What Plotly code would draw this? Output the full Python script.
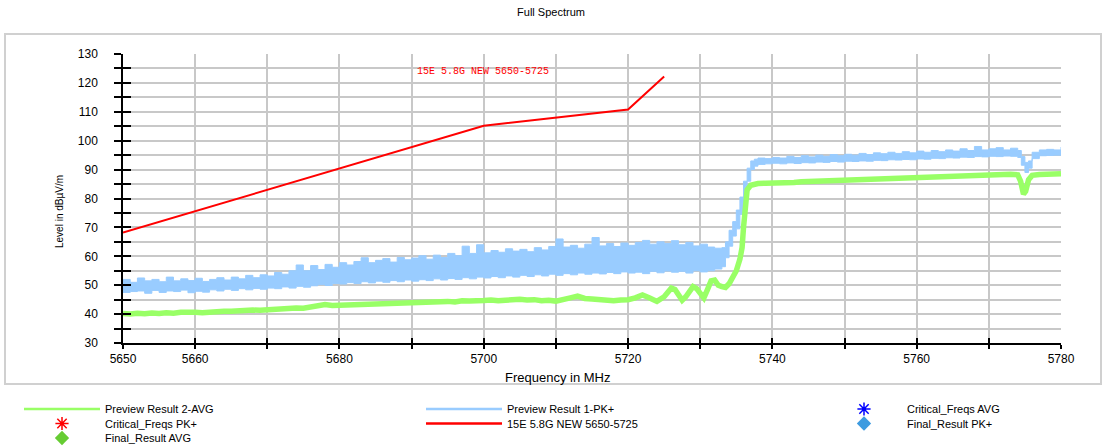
import plotly.graph_objects as go

# ---------------- data ----------------
limit_freq = [5650, 5700, 5720, 5725]
limit_val = [68.2, 105.2, 110.8, 122.2]

pk_freq = [
    5650, 5651, 5652, 5653, 5654, 5655, 5656, 5657, 5658, 5659,
    5660, 5661, 5662, 5663, 5664, 5665, 5666, 5667, 5668, 5669,
    5670, 5671, 5672, 5673, 5674, 5675, 5676, 5677, 5678, 5679,
    5680, 5681, 5682, 5683, 5684, 5685, 5686, 5687, 5688, 5689,
    5690, 5691, 5692, 5693, 5694, 5695, 5696, 5697, 5698, 5699,
    5700, 5701, 5702, 5703, 5704, 5705, 5706, 5707, 5708, 5709,
    5710, 5711, 5712, 5713, 5714, 5715, 5716, 5717, 5718, 5719,
    5720, 5721, 5722, 5723, 5724, 5725, 5726, 5727, 5728, 5729,
    5730, 5731, 5732, 5733, 5733.5, 5734, 5734.5, 5735, 5735.5, 5736,
    5736.5, 5737, 5737.5, 5738, 5739, 5740, 5741, 5742, 5743, 5744,
    5745, 5746, 5747, 5748, 5749, 5750, 5751, 5752, 5753, 5754,
    5755, 5756, 5757, 5758, 5759, 5760, 5761, 5762, 5763, 5764,
    5765, 5766, 5767, 5768, 5769, 5770, 5771, 5772, 5773, 5774,
    5774.5, 5775, 5775.5, 5776, 5777, 5778, 5779, 5780,
]
pk_hi = [
    52.0, 51.0, 52.5, 51.5, 52.0, 51.2, 52.8, 51.5, 52.2, 51.6,
    52.4, 51.3, 52.0, 52.6, 51.8, 52.8, 52.2, 53.4, 52.6, 53.6,
    53.2, 54.4, 53.8, 55.0, 57.0, 55.0, 56.8, 55.4, 57.2, 56.2,
    57.8, 57.0, 58.2, 59.5, 57.8, 58.6, 59.2, 58.0, 59.6, 58.8,
    59.4, 60.2, 59.0, 60.4, 59.6, 61.0, 60.2, 63.5, 61.0, 64.0,
    61.2, 62.0, 61.4, 62.6, 61.8, 62.4, 61.6, 63.0, 62.2, 63.4,
    66.0, 63.2, 63.8, 62.8, 64.2, 66.5, 63.6, 64.4, 63.4, 64.6,
    63.8, 64.8, 65.5, 64.2, 65.0, 64.4, 65.4, 64.0, 64.8, 63.6,
    64.2, 63.2, 62.8, 63.0, 65.0, 69.0, 72.0, 76.0, 80.5, 86.0,
    90.5, 93.0, 93.6, 94.0, 93.8, 94.2, 94.0, 94.6, 94.2, 94.8,
    94.4, 95.0, 94.6, 95.2, 94.8, 95.3, 95.0, 95.6, 95.2, 95.8,
    95.5, 96.0, 95.6, 96.2, 95.8, 96.4, 96.0, 96.6, 96.2, 96.8,
    96.4, 97.2, 96.6, 98.0, 96.8, 97.2, 97.6, 96.8, 97.4, 96.6,
    94.5, 92.5, 93.0, 96.0, 96.8, 97.0, 96.8, 97.8,
]
pk_lo = [
    47.5, 47.8, 48.0, 47.2, 48.2, 47.5, 48.0, 47.8, 48.3, 47.4,
    47.9, 47.6, 48.4, 48.0, 48.6, 48.2, 48.8, 48.4, 48.9, 48.6,
    49.0, 48.8, 49.4, 49.0, 49.6, 49.3, 49.8, 50.2, 49.9, 50.6,
    50.4, 50.9, 50.6, 51.2, 50.8, 51.4, 51.0, 51.6, 51.2, 51.8,
    51.4, 51.9, 51.6, 52.2, 51.8, 52.3, 52.0, 52.6, 52.2, 52.8,
    52.5, 53.0, 52.6, 53.2, 52.8, 53.4, 53.0, 53.6, 53.2, 53.8,
    53.4, 54.0, 53.6, 54.2, 53.8, 54.2, 53.9, 54.4, 54.0, 54.6,
    54.2, 54.5, 54.0, 54.8, 54.3, 54.9, 54.5, 54.8, 54.2, 55.0,
    54.6, 55.0, 55.6, 56.4, 59.5, 63.5, 67.0, 69.5, 74.5, 79.5,
    86.0, 90.0, 91.2, 91.8, 92.0, 92.2, 92.0, 92.3, 92.1, 92.4,
    92.3, 92.6, 92.5, 92.8, 92.6, 92.9, 92.8, 93.0, 92.9, 93.2,
    93.1, 93.4, 93.3, 93.5, 93.4, 93.7, 93.6, 93.9, 93.8, 94.1,
    94.0, 94.3, 94.2, 94.5, 94.4, 94.6, 94.5, 94.7, 94.6, 94.2,
    91.5, 89.0, 90.5, 93.8, 94.8, 94.9, 95.0, 95.2,
]

avg_freq = [
    5650, 5651, 5652, 5653, 5654, 5655, 5656, 5657, 5658, 5659,
    5660, 5661, 5662, 5663, 5664, 5665, 5666, 5667, 5668, 5669,
    5670, 5671, 5672, 5673, 5674, 5675, 5676, 5677, 5678, 5679,
    5680, 5681, 5682, 5683, 5684, 5685, 5686, 5687, 5688, 5689,
    5690, 5691, 5692, 5693, 5694, 5695, 5696, 5697, 5698, 5699,
    5700, 5701, 5702, 5703, 5704, 5705, 5706, 5707, 5708, 5709,
    5710, 5711, 5712, 5713, 5714, 5715, 5716, 5717, 5718, 5719,
    5720, 5721, 5722, 5723, 5724,
    5725, 5725.5, 5726, 5726.5, 5727, 5727.5, 5728, 5728.5, 5729, 5729.5,
    5730, 5730.5, 5731, 5731.5, 5732, 5732.5, 5733, 5733.5, 5734, 5734.5,
    5735, 5735.5, 5735.8, 5736, 5736.2, 5736.5, 5737, 5737.5, 5738,
    5739, 5740, 5741, 5742, 5743, 5744, 5745, 5746, 5747, 5748,
    5749, 5750, 5751, 5752, 5753, 5754, 5755, 5756, 5757, 5758,
    5759, 5760, 5761, 5762, 5763, 5764, 5765, 5766, 5767, 5768,
    5769, 5770, 5771, 5772, 5773, 5774,
    5774.4, 5774.8, 5775.1, 5775.5, 5776, 5777, 5778, 5779, 5780,
]
avg_val = [
    40.2, 40.0, 40.3, 40.1, 40.4, 40.2, 40.5, 40.3, 40.6, 40.4,
    40.6, 40.5, 40.8, 40.7, 41.0, 41.0, 41.2, 41.1, 41.4, 41.3,
    41.5, 41.6, 41.8, 41.9, 42.1, 42.0, 42.4, 42.7, 43.3, 43.0,
    43.1, 43.3, 43.2, 43.5, 43.4, 43.7, 43.6, 43.8, 43.7, 43.9,
    43.9, 44.0, 44.2, 44.1, 44.3, 44.4, 44.2, 44.6, 44.5, 44.8,
    44.7, 44.9, 44.6, 44.8, 45.0, 45.1, 44.9, 45.0, 44.6, 44.8,
    44.5, 44.9, 45.6, 46.2, 45.4, 45.2, 45.0, 44.8, 44.6, 44.9,
    45.0, 45.6, 46.6, 45.6, 44.4,
    46.0, 47.5, 49.0, 48.5, 46.5, 44.8, 46.0, 48.0, 49.5, 48.8,
    47.0, 45.6, 48.5, 51.5, 51.8, 50.0, 49.5, 49.2, 50.5, 52.5,
    55.0, 59.0, 63.0, 70.0, 78.0, 83.0, 84.6, 85.0, 85.2,
    85.3, 85.3, 85.4, 85.6, 85.5, 85.8, 85.9, 86.0, 86.0, 86.2,
    86.3, 86.3, 86.5, 86.5, 86.6, 86.8, 86.8, 86.9, 87.1, 87.0,
    87.3, 87.4, 87.4, 87.6, 87.6, 87.8, 87.9, 87.9, 88.0, 88.2,
    88.1, 88.2, 88.3, 88.2, 88.4, 88.2,
    86.0, 81.5, 82.5, 86.5, 88.0, 88.3, 88.4, 88.5, 88.6,
]

x_tickvals = [5650, 5660, 5670, 5680, 5690, 5700, 5710, 5720, 5730, 5740, 5750, 5760, 5770, 5780]
x_ticktext = ["5650", "5660", "", "5680", "", "5700", "", "5720", "", "5740", "", "5760", "", "5780"]
y_tickvals = [30, 35, 40, 45, 50, 55, 60, 65, 70, 75, 80, 85, 90, 95, 100, 105, 110, 115, 120, 125, 130]
y_ticktext = ["30", "", "40", "", "50", "", "60", "", "70", "", "80", "", "90", "", "100", "", "110", "", "120", "", "130"]

# ---------------- styling ----------------
W, H = 1102, 446
ML, MR, MT, MB = 123, 41, 54, 103
PW, PH = W - ML - MR, H - MT - MB

BLUE = "#99CCFF"
GREEN = "#99FF66"
RED = "#FF0000"
FONT = "Liberation Sans, Arial, sans-serif"


def px_x(p):
    return (p - ML) / PW


def px_y(p):
    return (H - MB - p) / PH


fig = go.Figure()

fig.add_trace(go.Scatter(x=pk_freq, y=pk_lo, mode="lines", line=dict(color=BLUE, width=1, shape="hv"),
                         showlegend=False, hoverinfo="skip"))
fig.add_trace(go.Scatter(x=pk_freq, y=pk_hi, mode="lines", line=dict(color=BLUE, width=1, shape="hv"),
                         fill="tonexty", fillcolor=BLUE, showlegend=False, hoverinfo="skip"))
fig.add_trace(go.Scatter(x=avg_freq, y=avg_val, mode="lines", line=dict(color=GREEN, width=5.5),
                         showlegend=False, hoverinfo="skip"))
fig.add_trace(go.Scatter(x=limit_freq, y=limit_val, mode="lines", line=dict(color=RED, width=2),
                         showlegend=False, hoverinfo="skip"))

# dummy trace for cross ticks (overlay axes)
fig.add_trace(go.Scatter(x=[None], y=[None], xaxis="x2", yaxis="y2", showlegend=False,
                         hoverinfo="skip"))

# legend entries
legend_items = [
    ("Preview Result 2-AVG", "lines", GREEN, None, "legend", 105, 409),
    ("Preview Result 1-PK+", "lines", BLUE, None, "legend2", 507, 409),
    ("Critical_Freqs AVG", "markers", "#0000FF", "asterisk-open", "legend3", 907, 409),
    ("Critical_Freqs PK+", "markers", RED, "asterisk-open", "legend4", 105, 423.5),
    ("15E 5.8G NEW 5650-5725", "lines", RED, None, "legend5", 507, 423.5),
    ("Final_Result PK+", "markers", "#3D9BE0", "diamond", "legend6", 907, 423.5),
    ("Final_Result AVG", "markers", "#66CC33", "diamond", "legend7", 105, 438),
]
legend_layout = {}
for name, mode, color, sym, lg, tx, ty in legend_items:
    if mode == "lines":
        fig.add_trace(go.Scatter(x=[None], y=[None], mode="lines", name=name, legend=lg,
                                 line=dict(color=color, width=2.5)))
    else:
        mk = dict(color=color, symbol=sym, size=11)
        if sym.startswith("asterisk"):
            mk["line"] = dict(color=color, width=1.5)
        fig.add_trace(go.Scatter(x=[None], y=[None], mode="markers", name=name, legend=lg,
                                 marker=mk))
    legend_layout[lg] = dict(
        x=px_x(tx - 86), y=px_y(ty), xanchor="left", yanchor="middle",
        orientation="v", itemwidth=76, bgcolor="rgba(0,0,0,0)",
        font=dict(family=FONT, size=11, color="#000000"),
        itemclick=False, itemdoubleclick=False,
    )

axis_common = dict(showgrid=True, gridcolor="#C8C8C8", gridwidth=1.5, zeroline=False,
                   showline=True, linecolor="#000000", linewidth=1.5,
                   ticks="outside", tickcolor="#000000", tickwidth=1.5,
                   tickfont=dict(family=FONT, size=12, color="#000000"), fixedrange=True)

fig.update_layout(
    width=W, height=H,
    margin=dict(l=ML, r=MR, t=MT, b=MB, autoexpand=False),
    paper_bgcolor="#FFFFFF", plot_bgcolor="#FFFFFF",
    title=dict(text="Full Spectrum", x=0.5, xref="container", xanchor="center",
               y=1 - 12 / H, yref="container", yanchor="middle",
               font=dict(family="Liberation Sans Narrow, Liberation Sans, Arial", size=11, color="#000000")),
    xaxis=dict(range=[5650, 5780], tickmode="array", tickvals=x_tickvals, ticktext=x_ticktext,
               ticklen=4, **axis_common),
    yaxis=dict(range=[30, 130], tickmode="array", tickvals=y_tickvals, ticktext=y_ticktext,
               ticklen=7, ticklabelstandoff=14, **axis_common),
    xaxis2=dict(range=[5650, 5780], overlaying="x", anchor="y", side="bottom",
                tickmode="array", tickvals=x_tickvals, showticklabels=False,
                ticks="inside", ticklen=5, tickwidth=1.5, tickcolor="#000000",
                showgrid=False, showline=False, zeroline=False, fixedrange=True),
    yaxis2=dict(range=[30, 130], overlaying="y", anchor="x", side="left",
                tickmode="array", tickvals=y_tickvals, showticklabels=False,
                ticks="inside", ticklen=8, tickwidth=1.5, tickcolor="#000000",
                showgrid=False, showline=False, zeroline=False, fixedrange=True),
    annotations=[
        dict(text="15E 5.8G NEW 5650-5725", x=5690.4, y=124.0, xref="x", yref="y",
             xanchor="left", yanchor="middle", showarrow=False,
             font=dict(family="Liberation Mono, DejaVu Serif, serif", size=10, color=RED)),
        dict(text="Frequency in MHz", x=px_x(557), y=px_y(377), xref="paper", yref="paper",
             xanchor="center", yanchor="middle", showarrow=False,
             font=dict(family=FONT, size=13, color="#000000")),
        dict(text="Level in dBµV/m", x=px_x(60), y=px_y(212), xref="paper", yref="paper",
             xanchor="center", yanchor="middle", showarrow=False, textangle=-90,
             font=dict(family=FONT, size=10, color="#000000")),
    ],
    shapes=[
        dict(type="rect", xref="paper", yref="paper", x0=px_x(5), x1=px_x(1101),
             y0=px_y(384), y1=px_y(34), line=dict(color="#D0D0D0", width=2), layer="below"),
    ],
    showlegend=True,
    **legend_layout,
)

fig.write_html("out.html", config={"displayModeBar": False},
               post_script="document.body.style.margin='0px';")
